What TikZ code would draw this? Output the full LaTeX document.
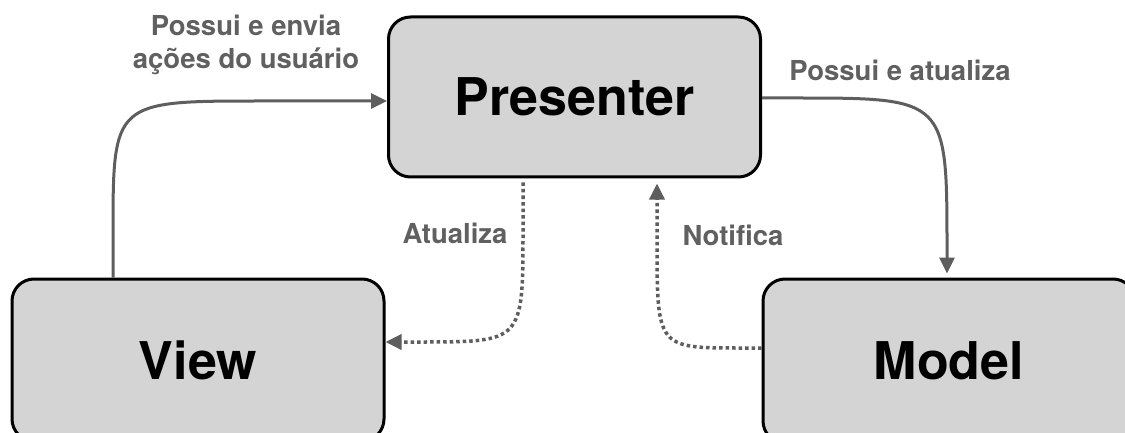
\documentclass[tikz,border=0pt]{standalone}
\usepackage{fontspec}
\setmainfont{TeX Gyre Heros}
\usetikzlibrary{arrows.meta}
\definecolor{boxfill}{HTML}{D4D4D4}
\definecolor{linkgray}{HTML}{5E5E5E}
\definecolor{labelgray}{HTML}{606060}
\begin{document}
\begin{tikzpicture}[x=1pt,y=-1pt,
  comp/.style={draw=black, line width=3pt, fill=boxfill, rounded corners=22pt,
    minimum width=372pt, minimum height=162pt, inner sep=0pt,
    font=\fontsize{52}{60}\selectfont\bfseries},
  link/.style={draw=linkgray, line width=3pt,
    -{Triangle[length=16pt,width=15pt]}},
  dotlink/.style={link, line width=3.5pt, dash pattern=on 3.5pt off 3pt},
  lbl/.style={text=labelgray, font=\fontsize{27.5}{33}\selectfont\bfseries, inner sep=0pt, align=center}
]
\useasboundingbox (0,0) rectangle (1125,433);

% components
\node[comp, minimum height=160pt] (Presenter) at (574.5,97) {Presenter};
\node[comp] (View) at (198,360) {View};
\node[comp, minimum height=164pt] (Model) at (949,361) {Model};

% solid links
\draw[link] ([xshift=-85pt]View.north) -- (113,235)
  .. controls (113,101) .. (262,101) -- ([yshift=-4pt]Presenter.west);
\draw[link, shorten >=4pt] ([yshift=-1pt]Presenter.east) -- (795,98)
  .. controls (947,98) .. (947,250) -- ([xshift=-2pt]Model.north);

% dotted links
\draw[dotlink, shorten <=4pt] ([xshift=-51.5pt]Presenter.south) -- (523,230)
  .. controls (523,342) .. (420,342) -- ([yshift=18pt]View.east);
\draw[dotlink, shorten >=5pt] ([yshift=13pt]Model.west) -- (740,348)
  .. controls (657,348) .. (657,240) -- ([xshift=82.5pt]Presenter.south);

% labels
\node[lbl] (lblEnvia) at (246,45) {Possui e envia\\ações do usuário};
\node[lbl] (lblAtualizaM) at (900,70) {Possui e atualiza};
\node[lbl] (lblAtualiza) at (455,233) {Atualiza};
\node[lbl] (lblNotifica) at (733,235) {Notifica};
\end{tikzpicture}
\end{document}
